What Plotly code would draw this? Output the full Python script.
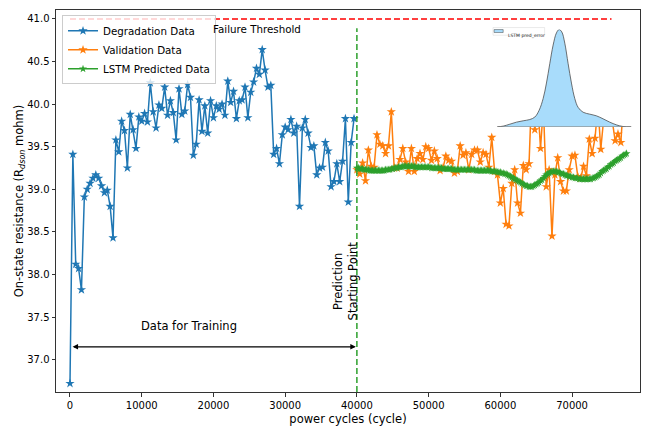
import plotly.graph_objects as go

# ---- data -------------------------------------------------------------
deg_cycles = list(range(0, 40000, 400))
deg_rdson = [36.72, 39.41, 38.12, 38.07, 37.82, 38.91, 39.00, 39.07, 39.13, 39.17,
             39.13, 39.04, 38.96, 38.99, 38.80, 38.43, 39.58, 39.44, 39.80, 39.69,
             39.25, 39.88, 39.70, 39.48, 39.85, 39.80, 39.89, 39.79, 40.25, 39.91,
             39.72, 39.99, 39.95, 40.20, 39.87, 40.04, 39.90, 39.58, 40.18, 39.88,
             39.92, 40.23, 40.08, 39.40, 39.53, 40.05, 39.68, 39.98, 39.66, 40.04,
             39.84, 39.98, 39.94, 40.00, 39.87, 40.27, 40.02, 40.15, 39.83, 40.04,
             40.05, 40.20, 39.84, 40.14, 40.26, 40.42, 40.35, 40.64, 40.40, 40.20,
             40.22, 39.41, 39.48, 39.30, 39.64, 39.73, 39.70, 39.82, 39.66, 39.74,
             38.80, 39.72, 39.82, 39.66, 39.49, 39.51, 39.17, 39.25, 39.26, 39.55,
             39.45, 39.03, 39.09, 39.30, 39.09, 39.33, 39.83, 38.85, 39.55, 39.83]

val_cycles = list(range(40000, 78000, 400))
val_rdson = [39.23, 39.18, 39.31, 39.10, 39.46, 39.27, 39.26, 39.64, 39.53, 39.51,
             39.42, 39.51, 39.91, 39.25, 39.25, 39.35, 39.48, 39.32, 39.21, 39.48,
             39.21, 39.36, 39.42, 39.35, 39.50, 39.48, 39.34, 39.45, 39.36, 39.22,
             39.25, 39.39, 39.34, 39.33, 39.19, 39.21, 39.51, 39.40, 39.43, 39.23,
             39.41, 39.46, 39.46, 39.32, 39.43, 39.41, 39.26, 39.61, 39.21, 39.17,
             38.84, 39.01, 38.59, 38.57, 39.07, 39.23, 38.84, 38.72, 39.28, 39.23,
             39.30, 40.22, 39.70, 40.03, 39.48, 39.97, 39.03, 39.23, 38.45, 39.17,
             39.37, 39.09, 38.98, 38.98, 39.23, 39.39, 39.40, 39.15, 39.13, 39.27,
             39.16, 39.59, 39.42, 39.60, 39.99, 39.47, 39.82, 40.30, 40.21, 39.81,
             39.57, 39.65, 39.55, 40.08, 40.37]

pred_cycles = list(range(40000, 77800, 200))
pred_rdson = [39.25, 39.25, 39.24, 39.24, 39.24, 39.23, 39.23, 39.23, 39.23, 39.22,
              39.22, 39.22, 39.22, 39.22, 39.22, 39.22, 39.22, 39.22, 39.22, 39.22,
              39.23, 39.23, 39.23, 39.23, 39.24, 39.24, 39.25, 39.25, 39.25, 39.26,
              39.26, 39.26, 39.27, 39.27, 39.27, 39.27, 39.27, 39.27, 39.27, 39.27,
              39.27, 39.26, 39.26, 39.26, 39.26, 39.26, 39.26, 39.26, 39.26, 39.26,
              39.26, 39.26, 39.25, 39.25, 39.25, 39.25, 39.25, 39.25, 39.25, 39.25,
              39.24, 39.24, 39.24, 39.24, 39.24, 39.24, 39.24, 39.23, 39.23, 39.23,
              39.23, 39.23, 39.23, 39.23, 39.23, 39.23, 39.23, 39.23, 39.23, 39.23,
              39.23, 39.23, 39.23, 39.22, 39.22, 39.22, 39.22, 39.22, 39.22, 39.22,
              39.22, 39.22, 39.22, 39.22, 39.21, 39.21, 39.21, 39.21, 39.20, 39.20,
              39.20, 39.19, 39.19, 39.18, 39.18, 39.17, 39.16, 39.15, 39.14, 39.13,
              39.12, 39.11, 39.10, 39.09, 39.08, 39.07, 39.06, 39.05, 39.04, 39.04,
              39.03, 39.03, 39.03, 39.04, 39.05, 39.06, 39.07, 39.08, 39.10, 39.11,
              39.13, 39.15, 39.17, 39.18, 39.19, 39.20, 39.21, 39.21, 39.21, 39.21,
              39.20, 39.20, 39.19, 39.18, 39.18, 39.17, 39.16, 39.16, 39.15, 39.15,
              39.14, 39.14, 39.13, 39.13, 39.13, 39.12, 39.12, 39.12, 39.12, 39.12,
              39.12, 39.12, 39.12, 39.12, 39.13, 39.13, 39.14, 39.15, 39.16, 39.17,
              39.19, 39.21, 39.22, 39.23, 39.24, 39.26, 39.27, 39.29, 39.30, 39.31,
              39.33, 39.34, 39.35, 39.36, 39.37, 39.39, 39.40, 39.41, 39.42]

# prediction-error density for the inset
err_values = [-0.744, -0.672, -0.592, -0.512, -0.432, -0.352, -0.292, -0.240, -0.192,
              -0.152, -0.112, -0.072, -0.032, 0.0, 0.032, 0.068, 0.108, 0.148, 0.188,
              0.228, 0.288, 0.368, 0.448, 0.528, 0.608, 0.688, 0.768, 0.868]
err_density = [0.0, 0.007, 0.027, 0.048, 0.062, 0.075, 0.10, 0.17, 0.29, 0.45, 0.65,
               0.84, 0.966, 1.0, 0.976, 0.86, 0.65, 0.45, 0.29, 0.20, 0.15, 0.13,
               0.113, 0.082, 0.048, 0.02, 0.003, 0.0]

failure_threshold = 41.0
threshold_end = 75500
split_cycle = 40000

x_ticks = [0, 10000, 20000, 30000, 40000, 50000, 60000, 70000]
y_ticks = [37.0, 37.5, 38.0, 38.5, 39.0, 39.5, 40.0, 40.5, 41.0]

FONT = "DejaVu Sans"
BLUE, ORANGE, GREEN = "#1f77b4", "#ff7f0e", "#2ca02c"
KDE_FILL = "rgba(135,206,250,0.72)"
KDE_EDGE = "rgba(70,70,70,0.85)"

fig = go.Figure()

fig.add_trace(go.Scatter(
    x=deg_cycles, y=deg_rdson, mode="lines+markers", name="Degradation Data",
    line=dict(color=BLUE, width=1.5),
    marker=dict(symbol="star", size=7, color=BLUE)))
fig.add_trace(go.Scatter(
    x=val_cycles, y=val_rdson, mode="lines+markers", name="Validation Data",
    line=dict(color=ORANGE, width=1.5),
    marker=dict(symbol="star", size=7, color=ORANGE)))
fig.add_trace(go.Scatter(
    x=pred_cycles, y=pred_rdson, mode="lines+markers", name="LSTM Predicted Data",
    line=dict(color=GREEN, width=1.5),
    marker=dict(symbol="star", size=6, color=GREEN)))

# inset: density of the prediction error
fig.add_trace(go.Scatter(
    x=err_values, y=err_density, mode="lines", name="LSTM pred_error",
    xaxis="x2", yaxis="y2", fill="tozeroy", line_shape="spline",
    fillcolor=KDE_FILL, line=dict(color=KDE_EDGE, width=0.9),
    showlegend=False))

# failure threshold and prediction start
fig.add_shape(type="line", xref="x", yref="y", x0=0, x1=threshold_end,
              y0=failure_threshold, y1=failure_threshold,
              line=dict(color="red", width=1.5, dash="6px,3px"))
fig.add_shape(type="line", xref="x", yref="y", x0=split_cycle, x1=split_cycle,
              y0=36.62, y1=40.89,
              line=dict(color=GREEN, width=1.5, dash="6px,3px"))
fig.add_shape(type="line", xref="x2", yref="y2", x0=err_values[0], x1=err_values[-1],
              y0=0, y1=0, line=dict(color=KDE_EDGE, width=0.9))

# small key for the inset density
fig.add_shape(type="rect", xref="paper", yref="paper",
              x0=0.7483, x1=0.8367, y0=0.9340, y1=0.9541,
              line=dict(color="#dddddd", width=0.6), fillcolor="rgba(255,255,255,0.8)")
fig.add_shape(type="rect", xref="paper", yref="paper",
              x0=0.7502, x1=0.7657, y0=0.9410, y1=0.9488,
              line=dict(color=KDE_EDGE, width=0.6), fillcolor=KDE_FILL)
fig.add_annotation(x=0.7700, y=0.9449, xref="paper", yref="paper",
                   text="LSTM pred_error", showarrow=False, xanchor="left",
                   font=dict(family=FONT, size=4.5, color="#222"))

fig.add_annotation(x=26045, y=40.887, xref="x", yref="y", text="Failure Threshold",
                   showarrow=False, font=dict(family=FONT, size=10.3, color="black"))
fig.add_annotation(x=16600, y=37.39, xref="x", yref="y", text="Data for Training",
                   showarrow=False, font=dict(family=FONT, size=11.5, color="black"))
fig.add_annotation(x=38340, y=37.93, xref="x", yref="y",
                   text="Prediction<br>Starting Point", textangle=-90,
                   showarrow=False, font=dict(family=FONT, size=11.5, color="black"))
# double-headed arrow spanning the training range
fig.add_annotation(x=split_cycle - 150, y=37.15, ax=150, ay=37.15,
                   xref="x", yref="y", axref="x", ayref="y", text="",
                   showarrow=True, arrowhead=2, startarrowhead=2,
                   arrowside="end+start", arrowsize=1, arrowwidth=1.1,
                   arrowcolor="black")

fig.update_layout(
    width=646, height=426,
    margin=dict(l=56, r=6, t=10, b=34),
    paper_bgcolor="white", plot_bgcolor="white",
    font=dict(family=FONT, size=10, color="black"),
    xaxis=dict(
        range=[-1950, 79470], tickvals=x_ticks, ticktext=[str(v) for v in x_ticks],
        showgrid=False, zeroline=False, showline=True, mirror=True,
        linecolor="#333", linewidth=1, ticks="outside", ticklen=3.5, tickcolor="#333",
        tickfont=dict(size=10),
        title=dict(text="power cycles (cycle)", font=dict(size=11.5), standoff=5),
        automargin=False),
    yaxis=dict(
        range=[36.62, 41.105], tickvals=y_ticks, ticktext=[f"{v:.1f}" for v in y_ticks],
        showgrid=False, zeroline=False, showline=True, mirror=True,
        linecolor="#333", linewidth=1, ticks="outside", ticklen=3.5, tickcolor="#333",
        tickfont=dict(size=10),
        title=dict(text="On-state resistance (R<sub><i>dson</i></sub> mohm)",
                   font=dict(size=11.5), standoff=0),
        automargin=False),
    xaxis2=dict(domain=[0.7554, 0.9853], anchor="y2", range=[-0.744, 0.868],
                visible=False, fixedrange=True),
    yaxis2=dict(domain=[0.6942, 0.9488], anchor="x2", range=[0, 1.0],
                visible=False, fixedrange=True),
    legend=dict(x=0.0103, y=0.986, xanchor="left", yanchor="top",
                bgcolor="rgba(255,255,255,0.8)", bordercolor="#cccccc", borderwidth=1,
                font=dict(size=10.3), tracegroupgap=0, itemwidth=30),
)

fig.write_html("out.html")
